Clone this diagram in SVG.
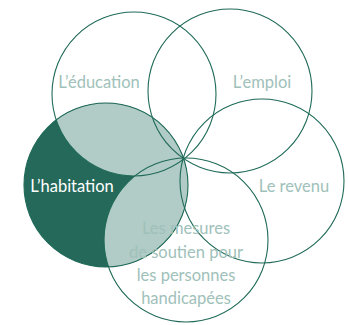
<svg xmlns="http://www.w3.org/2000/svg" width="348" height="325" viewBox="0 0 348 325">
<style>
.ring{fill:none;stroke:#1f6a58;stroke-width:1.1}
.lbl{font-family:Lato,"Open Sans","Liberation Sans",sans-serif;font-size:16.5px;fill:#a0c1ba;text-anchor:middle}
.lbl-w{fill:#ffffff}
.ov{fill:#b1cbc6}
</style>
<defs>
<clipPath id="habClip"><circle cx="106" cy="185" r="82"/></clipPath>
</defs>
<rect width="348" height="325" fill="#ffffff"/>
<g id="fills">
<circle cx="106" cy="185" r="82" fill="#24695a"/>
<g clip-path="url(#habClip)">
<circle class="ov" cx="134" cy="94" r="82"/>
<circle class="ov" cx="230" cy="91" r="82"/>
<circle class="ov" cx="262" cy="181" r="82"/>
<circle class="ov" cx="186" cy="240" r="82"/>
</g>
</g>
<g id="education">
<circle class="ring" cx="134" cy="94" r="82"/>
<text class="lbl" x="99" y="88">L’éducation</text>
</g>
<g id="emploi">
<circle class="ring" cx="230" cy="91" r="82"/>
<text class="lbl" x="262" y="88">L’emploi</text>
</g>
<g id="revenu">
<circle class="ring" cx="262" cy="181" r="82"/>
<text class="lbl" x="294" y="192">Le revenu</text>
</g>
<g id="habitation">
<circle class="ring" cx="106" cy="185" r="82"/>
<text class="lbl lbl-w" x="72" y="192">L’habitation</text>
</g>
<g id="mesures">
<circle class="ring" cx="186" cy="240" r="82"/>
<text class="lbl" x="186" y="234">Les mesures</text>
<text class="lbl" x="186" y="258">de soutien pour</text>
<text class="lbl" x="186" y="281">les personnes</text>
<text class="lbl" x="186" y="304">handicapées</text>
</g>
</svg>
